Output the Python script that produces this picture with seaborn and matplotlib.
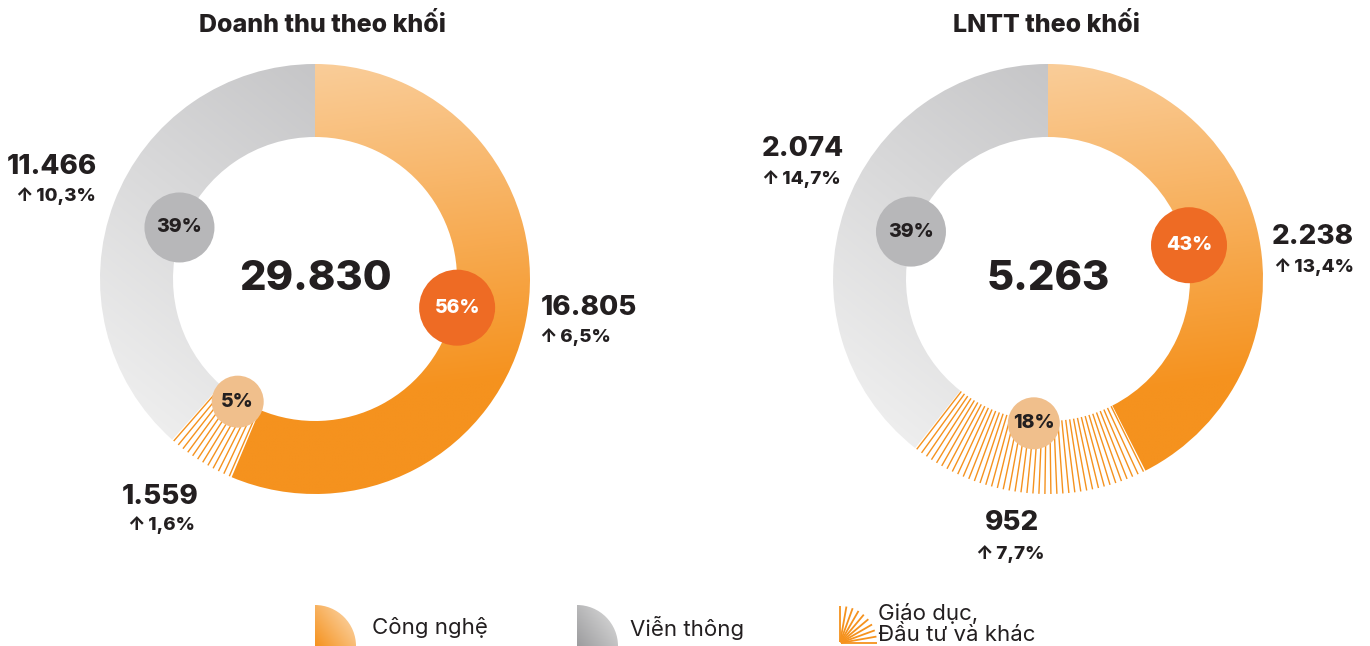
import numpy as np
import matplotlib.pyplot as plt
import seaborn as sns
from matplotlib.colors import to_rgb
from matplotlib.patches import Circle, Wedge

sns.set_theme(style="white")
plt.rcParams["font.family"] = ["Inter", "DejaVu Sans"]

# ---------------- data ----------------
segments = ["Công nghệ", "Giáo dục,\nĐầu tư và khác", "Viễn thông"]

revenue = [16805, 1559, 11466]
revenue_growth = [6.5, 1.6, 10.3]
revenue_share = [56, 5, 39]
revenue_total = 29830

profit = [2238, 952, 2074]
profit_growth = [13.4, 7.7, 14.7]
profit_share = [43, 18, 39]
profit_total = 5263

# ---------------- style ----------------
W_PX, H_PX = 1370, 646
DARK = "#231F20"
ORANGE = "#F5921E"
HEAVY = 800
BUBBLE_COLORS = ["#EE6B24", "#F0BF8C", "#B7B7B9"]
BUBBLE_TEXT = ["white", DARK, DARK]
BUBBLE_RADIUS = [38, 26, 35]
R_OUT, RING_W = 215, 73


def Y(y):
    # image row -> data y (origin at bottom)
    return H_PX - y


def vn_int(v):
    return f"{v:,}".replace(",", ".")


def vn_pct(v):
    return "↑\u2009" + f"{v:.1f}%".replace(".", ",")


def gradient_fill(ax, patch, c0, c1, p0, p1, extent, z=1):
    x0, x1, y0, y1 = extent
    xs = np.linspace(x0, x1, 300)
    ys = np.linspace(y0, y1, 300)
    X, Yg = np.meshgrid(xs, ys)
    d = np.array(p1, float) - np.array(p0, float)
    t = ((X - p0[0]) * d[0] + (Yg - p0[1]) * d[1]) / (d @ d)
    t = np.clip(t, 0, 1)[..., None]
    rgb = (1 - t) * np.array(to_rgb(c0)) + t * np.array(to_rgb(c1))
    im = ax.imshow(rgb, extent=extent, origin="lower", zorder=z, interpolation="bilinear")
    im.set_clip_path(patch)


def radial_lines(ax, cx, cy, th1, th2, r0, r1, step, lw=1.0, offset=None):
    offset = step / 3 if offset is None else offset
    for a in np.arange(th1 + offset, th2, step):
        t = np.radians(a)
        ax.plot([cx + r0 * np.cos(t), cx + r1 * np.cos(t)],
                [cy + r0 * np.sin(t), cy + r1 * np.sin(t)],
                color=ORANGE, lw=lw, solid_capstyle="butt", zorder=2)


def draw_donut(ax, cx, cy, values, shares, growth, total, title, title_x, label_pos):
    wedges, _ = ax.pie(values, startangle=90, counterclock=False, radius=R_OUT,
                       center=(cx, cy), frame=True,
                       wedgeprops=dict(width=RING_W, linewidth=0, facecolor="none"))
    ext = [cx - R_OUT, cx + R_OUT, cy - R_OUT, cy + R_OUT]
    # technology: light peach at top -> saturated orange at bottom
    gradient_fill(ax, wedges[0], "#FACD99", ORANGE, (cx, cy + R_OUT), (cx + 40, cy - R_OUT * 0.55), ext)
    # telecom: darker grey near the top -> light grey bottom-left
    gradient_fill(ax, wedges[2], "#C3C3C5", "#EEEEEE", (cx + 40, cy + R_OUT), (cx - R_OUT, cy - R_OUT * 0.5), ext)
    # education / other: radial hatch
    radial_lines(ax, cx, cy, wedges[1].theta1, wedges[1].theta2, R_OUT - RING_W, R_OUT, 1.6)

    for w, s, col, tc, br in zip(wedges, shares, BUBBLE_COLORS, BUBBLE_TEXT, BUBBLE_RADIUS):
        mid = np.radians((w.theta1 + w.theta2) / 2)
        bx, by = cx + 145 * np.cos(mid), cy + 145 * np.sin(mid)
        ax.add_patch(Circle((bx, by), br, color=col, zorder=4, lw=0))
        ax.text(bx, by, f"{s}%", ha="center", va="center", fontsize=14,
                fontweight=HEAVY, color=tc, zorder=5)

    for v, g, (vx, vy, gx, gy) in zip(values, growth, label_pos):
        ax.text(vx, Y(vy), vn_int(v), ha="center", va="center", fontsize=20,
                fontweight=HEAVY, color=DARK)
        ax.text(gx, Y(gy), vn_pct(g), ha="center", va="center", fontsize=13.5,
                fontweight=HEAVY, color=DARK)

    ax.text(cx, cy, vn_int(total), ha="center", va="center", fontsize=30,
            fontweight=HEAVY, color=DARK)
    ax.text(title_x, Y(25), title, ha="center", va="center", fontsize=18,
            fontweight=HEAVY, color=DARK)


fig = plt.figure(figsize=(13.7, 6.46), dpi=100)
ax = fig.add_axes([0, 0, 1, 1])

draw_donut(ax, 315, Y(279), revenue, revenue_share, revenue_growth, revenue_total,
           "Doanh thu theo khối", 322,
           [(589, 308, 575, 337), (160, 497, 161, 525), (52, 167, 56, 196)])
draw_donut(ax, 1048, Y(279), profit, profit_share, profit_growth, profit_total,
           "LNTT theo khối", 1046,
           [(1313, 237, 1314, 267), (1012, 523, 1010, 554), (803, 149, 801, 179)])

# ---------------- legend ----------------
lw_orange = Wedge((315, 0), 41, 0, 90, facecolor="none", lw=0)
ax.add_patch(lw_orange)
gradient_fill(ax, lw_orange, ORANGE, "#FBD5A8", (315, 0), (356, 30), [315, 356, 0, 41])
lw_grey = Wedge((577, 0), 41, 0, 90, facecolor="none", lw=0)
ax.add_patch(lw_grey)
gradient_fill(ax, lw_grey, "#9C9C9E", "#D8D8D8", (577, 0), (618, 30), [577, 618, 0, 41])
radial_lines(ax, 840, 3, 0, 91, 1, 37, 10, lw=1.3, offset=0)

ax.text(372, Y(628), segments[0], ha="left", va="center", fontsize=16, color=DARK)
ax.text(630, Y(628), segments[2], ha="left", va="center", fontsize=16, color=DARK)
ax.text(878, Y(624), segments[1], ha="left", va="center", fontsize=16, color=DARK,
        linespacing=1.05)

ax.set_xlim(0, W_PX)
ax.set_ylim(0, H_PX)
ax.set_aspect("equal")
ax.axis("off")

fig.savefig("out.png", dpi=100, facecolor="white")
